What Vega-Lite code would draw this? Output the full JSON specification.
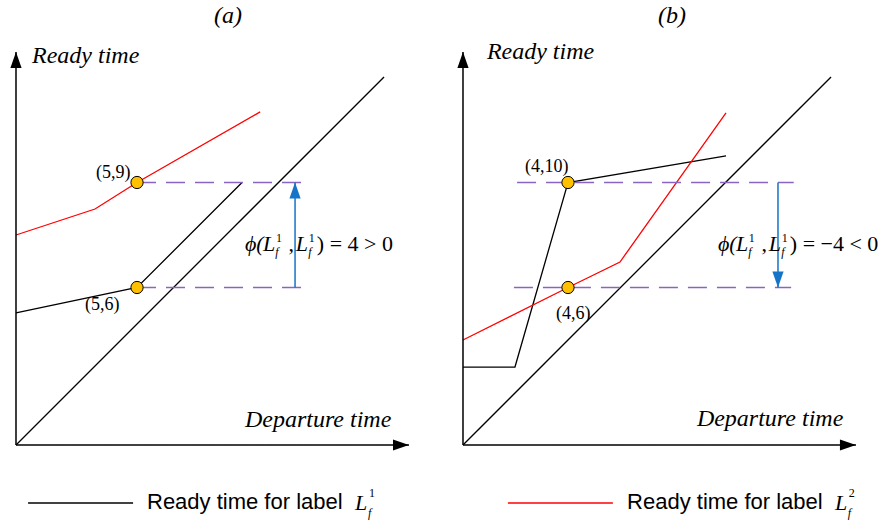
{
  "$schema": "https://vega.github.io/schema/vega-lite/v6.json",
  "background": "white",
  "padding": 0,
  "spacing": 0,
  "config": {"view": {"stroke": null}},
  "datasets": {
    "curves": [
      {"panel": "a", "series": "bound", "i": 0, "x": 0, "y": 0},
      {"panel": "a", "series": "bound", "i": 1, "x": 14.02, "y": 14.02},
      {"panel": "a", "series": "L1", "i": 0, "x": 0, "y": 5.03},
      {"panel": "a", "series": "L1", "i": 1, "x": 4.61, "y": 6.0},
      {"panel": "a", "series": "L1", "i": 2, "x": 8.61, "y": 10.0},
      {"panel": "a", "series": "L2", "i": 0, "x": 0, "y": 8.0},
      {"panel": "a", "series": "L2", "i": 1, "x": 3.01, "y": 8.99},
      {"panel": "a", "series": "L2", "i": 2, "x": 4.61, "y": 10.0},
      {"panel": "a", "series": "L2", "i": 3, "x": 9.3, "y": 12.69},
      {"panel": "b", "series": "bound", "i": 0, "x": 0, "y": 0},
      {"panel": "b", "series": "bound", "i": 1, "x": 14.02, "y": 14.02},
      {"panel": "b", "series": "L1", "i": 0, "x": 0, "y": 2.97},
      {"panel": "b", "series": "L1", "i": 1, "x": 1.98, "y": 2.97},
      {"panel": "b", "series": "L1", "i": 2, "x": 4.0, "y": 10.0},
      {"panel": "b", "series": "L1", "i": 3, "x": 10.02, "y": 11.01},
      {"panel": "b", "series": "L2", "i": 0, "x": 0, "y": 4.0},
      {"panel": "b", "series": "L2", "i": 1, "x": 4.0, "y": 6.0},
      {"panel": "b", "series": "L2", "i": 2, "x": 5.98, "y": 6.97},
      {"panel": "b", "series": "L2", "i": 3, "x": 10.02, "y": 12.65}
    ],
    "segments": [
      {"panel": "a", "series": "axis", "x": 0, "y": 0, "x2": 14.97, "y2": 0},
      {"panel": "a", "series": "axis", "x": 0, "y": 0, "x2": 0, "y2": 14.97},
      {"panel": "a", "series": "guide", "x": 4.61, "y": 10, "x2": 11.24, "y2": 10},
      {"panel": "a", "series": "guide", "x": 4.61, "y": 6, "x2": 11.24, "y2": 6},
      {"panel": "a", "series": "delta", "x": 10.63, "y": 6, "x2": 10.63, "y2": 10},
      {"panel": "a", "series": "L1", "x": 0.46, "y": -2.21, "x2": 4.46, "y2": -2.21},
      {"panel": "b", "series": "axis", "x": 0, "y": 0, "x2": 14.97, "y2": 0},
      {"panel": "b", "series": "axis", "x": 0, "y": 0, "x2": 0, "y2": 14.97},
      {"panel": "b", "series": "guide", "x": 2.06, "y": 10, "x2": 12.6, "y2": 10},
      {"panel": "b", "series": "guide", "x": 1.94, "y": 6, "x2": 12.5, "y2": 6},
      {"panel": "b", "series": "delta", "x": 12.0, "y": 10, "x2": 12.0, "y2": 6},
      {"panel": "b", "series": "L2", "x": 1.71, "y": -2.21, "x2": 5.71, "y2": -2.21}
    ],
    "heads": [
      {"panel": "a", "series": "axis", "dir": "right", "x": 14.97, "y": 0},
      {"panel": "a", "series": "axis", "dir": "up", "x": 0, "y": 14.97},
      {"panel": "a", "series": "delta", "dir": "up", "x": 10.63, "y": 10},
      {"panel": "b", "series": "axis", "dir": "right", "x": 14.97, "y": 0},
      {"panel": "b", "series": "axis", "dir": "up", "x": 0, "y": 14.97},
      {"panel": "b", "series": "delta", "dir": "down", "x": 12.0, "y": 6}
    ],
    "dots": [
      {"panel": "a", "x": 4.61, "y": 10},
      {"panel": "a", "x": 4.61, "y": 6},
      {"panel": "b", "x": 4.0, "y": 10},
      {"panel": "b", "x": 4.0, "y": 6}
    ],
    "notes": [
      {"panel": "a", "role": "ital", "text": "(a)", "x": 7.54, "y": 16.08},
      {"panel": "a", "role": "ital", "text": "Ready time", "x": 0.61, "y": 14.55},
      {"panel": "a", "role": "ital", "text": "Departure time", "x": 8.72, "y": 0.69},
      {"panel": "b", "role": "ital", "text": "(b)", "x": 7.43, "y": 16.08},
      {"panel": "b", "role": "ital", "text": "Ready time", "x": 0.91, "y": 14.7},
      {"panel": "b", "role": "ital", "text": "Departure time", "x": 8.91, "y": 0.72},
      {"panel": "a", "role": "coord", "text": "(5,9)", "x": 3.05, "y": 10.17},
      {"panel": "a", "role": "coord", "text": "(5,6)", "x": 2.63, "y": 5.14},
      {"panel": "b", "role": "coord", "text": "(4,10)", "x": 2.36, "y": 10.4},
      {"panel": "b", "role": "coord", "text": "(4,6)", "x": 3.54, "y": 4.8},
      {"panel": "a", "role": "mathit", "text": "ϕ(", "x": 8.72, "y": 7.39},
      {"panel": "a", "role": "mathit", "text": "L", "x": 9.41, "y": 7.39},
      {"panel": "a", "role": "mathit", "text": "L", "x": 10.66, "y": 7.39},
      {"panel": "b", "role": "mathit", "text": "ϕ(", "x": 9.71, "y": 7.39},
      {"panel": "b", "role": "mathit", "text": "L", "x": 10.4, "y": 7.39},
      {"panel": "b", "role": "mathit", "text": "L", "x": 11.65, "y": 7.39},
      {"panel": "a", "role": "mathit", "text": "L", "x": 12.91, "y": -2.48},
      {"panel": "b", "role": "mathit", "text": "L", "x": 14.17, "y": -2.48},
      {"panel": "a", "role": "math", "text": ",", "x": 10.38, "y": 7.39},
      {"panel": "a", "role": "math", "text": ") = 4 > 0", "x": 11.46, "y": 7.39},
      {"panel": "b", "role": "math", "text": ",", "x": 11.37, "y": 7.39},
      {"panel": "b", "role": "math", "text": ") = −4 < 0", "x": 12.45, "y": 7.39},
      {"panel": "a", "role": "sup", "text": "1", "x": 9.9, "y": 7.72},
      {"panel": "a", "role": "sup", "text": "1", "x": 11.15, "y": 7.72},
      {"panel": "a", "role": "sup", "text": "1", "x": 13.45, "y": -1.98},
      {"panel": "b", "role": "sup", "text": "1", "x": 10.89, "y": 7.72},
      {"panel": "b", "role": "sup", "text": "1", "x": 12.14, "y": 7.72},
      {"panel": "b", "role": "sup", "text": "2", "x": 14.7, "y": -1.98},
      {"panel": "a", "role": "sub", "text": "f", "x": 9.88, "y": 7.2},
      {"panel": "a", "role": "sub", "text": "f", "x": 11.13, "y": 7.2},
      {"panel": "a", "role": "sub", "text": "f", "x": 13.41, "y": -2.74},
      {"panel": "b", "role": "sub", "text": "f", "x": 10.87, "y": 7.2},
      {"panel": "b", "role": "sub", "text": "f", "x": 12.12, "y": 7.2},
      {"panel": "b", "role": "sub", "text": "f", "x": 14.66, "y": -2.74},
      {"panel": "a", "role": "key", "text": "Ready time for label", "x": 4.99, "y": -2.44},
      {"panel": "b", "role": "key", "text": "Ready time for label", "x": 6.25, "y": -2.44}
    ]
  },
  "hconcat": [
    {
      "width": 440,
      "height": 521,
      "encoding": {
        "x": {"field": "x", "type": "quantitative", "scale": {"domain": [-0.6095, 16.152], "nice": false, "zero": false}, "axis": null},
        "y": {"field": "y", "type": "quantitative", "scale": {"domain": [-2.895, 16.952], "nice": false, "zero": false}, "axis": null}
      },
      "layer": [
        {
          "data": {"name": "curves"},
          "transform": [{"filter": "datum.panel === 'a'"}],
          "mark": {"type": "line", "strokeWidth": 1.3},
          "encoding": {
            "color": {"field": "series", "type": "nominal", "scale": {"domain": ["L1", "L2", "bound", "axis", "guide", "delta"], "range": ["#000000", "#ff0000", "#000000", "#000000", "#8a64c4", "#1574c8"]}, "legend": null},
            "order": {"field": "i", "type": "quantitative"}
          }
        },
        {
          "data": {"name": "segments"},
          "transform": [{"filter": "datum.panel === 'a'"}],
          "mark": {"type": "rule", "strokeWidth": 1.5},
          "encoding": {
            "x2": {"field": "x2"},
            "y2": {"field": "y2"},
            "color": {"field": "series", "type": "nominal", "scale": {"domain": ["L1", "L2", "bound", "axis", "guide", "delta"], "range": ["#000000", "#ff0000", "#000000", "#000000", "#8a64c4", "#1574c8"]}, "legend": null},
            "strokeDash": {"field": "series", "type": "nominal", "scale": {"domain": ["L1", "L2", "bound", "axis", "guide", "delta"], "range": [[1, 0], [1, 0], [1, 0], [1, 0], [19, 10], [1, 0]]}, "legend": null}
          }
        },
        {
          "data": {"name": "heads"},
          "transform": [{"filter": "datum.panel === 'a'"}],
          "mark": {"type": "point", "filled": true, "size": 256, "opacity": 1},
          "encoding": {
            "shape": {"field": "dir", "type": "nominal", "scale": {"domain": ["right", "up", "down"], "range": ["M0,0L-2,-0.7L-2,0.7Z", "M0,0L-0.7,2L0.7,2Z", "M0,0L-0.7,-2L0.7,-2Z"]}, "legend": null},
            "color": {"field": "series", "type": "nominal", "scale": {"domain": ["L1", "L2", "bound", "axis", "guide", "delta"], "range": ["#000000", "#ff0000", "#000000", "#000000", "#8a64c4", "#1574c8"]}, "legend": null}
          }
        },
        {
          "data": {"name": "dots"},
          "transform": [{"filter": "datum.panel === 'a'"}],
          "mark": {"type": "point", "shape": "circle", "filled": true, "fill": "#ffc000", "stroke": "#000000", "strokeWidth": 1, "size": 150, "opacity": 1}
        },
        {
          "data": {"name": "notes"},
          "transform": [{"filter": "datum.panel === 'a' && datum.role === 'ital'"}],
          "mark": {"type": "text", "font": "Liberation Serif", "fontStyle": "italic", "fontSize": 24, "align": "left", "baseline": "alphabetic", "color": "#000000"},
          "encoding": {"text": {"field": "text"}}
        },
        {
          "data": {"name": "notes"},
          "transform": [{"filter": "datum.panel === 'a' && datum.role === 'coord'"}],
          "mark": {"type": "text", "font": "Liberation Serif", "fontSize": 18, "align": "left", "baseline": "alphabetic", "color": "#000000"},
          "encoding": {"text": {"field": "text"}}
        },
        {
          "data": {"name": "notes"},
          "transform": [{"filter": "datum.panel === 'a' && datum.role === 'mathit'"}],
          "mark": {"type": "text", "font": "Liberation Serif", "fontStyle": "italic", "fontSize": 22, "align": "left", "baseline": "alphabetic", "color": "#000000"},
          "encoding": {"text": {"field": "text"}}
        },
        {
          "data": {"name": "notes"},
          "transform": [{"filter": "datum.panel === 'a' && datum.role === 'math'"}],
          "mark": {"type": "text", "font": "Liberation Serif", "fontSize": 22, "align": "left", "baseline": "alphabetic", "color": "#000000"},
          "encoding": {"text": {"field": "text"}}
        },
        {
          "data": {"name": "notes"},
          "transform": [{"filter": "datum.panel === 'a' && datum.role === 'sup'"}],
          "mark": {"type": "text", "font": "Liberation Serif", "fontSize": 12, "align": "left", "baseline": "alphabetic", "color": "#000000"},
          "encoding": {"text": {"field": "text"}}
        },
        {
          "data": {"name": "notes"},
          "transform": [{"filter": "datum.panel === 'a' && datum.role === 'sub'"}],
          "mark": {"type": "text", "font": "Liberation Serif", "fontStyle": "italic", "fontSize": 12, "align": "left", "baseline": "alphabetic", "color": "#000000"},
          "encoding": {"text": {"field": "text"}}
        },
        {
          "data": {"name": "notes"},
          "transform": [{"filter": "datum.panel === 'a' && datum.role === 'key'"}],
          "mark": {"type": "text", "font": "Liberation Sans", "fontSize": 22, "align": "left", "baseline": "alphabetic", "color": "#000000"},
          "encoding": {"text": {"field": "text"}}
        }
      ]
    },
    {
      "width": 441,
      "height": 521,
      "encoding": {
        "x": {"field": "x", "type": "quantitative", "scale": {"domain": [-0.876, 15.924], "nice": false, "zero": false}, "axis": null},
        "y": {"field": "y", "type": "quantitative", "scale": {"domain": [-2.895, 16.952], "nice": false, "zero": false}, "axis": null}
      },
      "layer": [
        {
          "data": {"name": "curves"},
          "transform": [{"filter": "datum.panel === 'b'"}],
          "mark": {"type": "line", "strokeWidth": 1.3},
          "encoding": {
            "color": {"field": "series", "type": "nominal", "scale": {"domain": ["L1", "L2", "bound", "axis", "guide", "delta"], "range": ["#000000", "#ff0000", "#000000", "#000000", "#8a64c4", "#1574c8"]}, "legend": null},
            "order": {"field": "i", "type": "quantitative"}
          }
        },
        {
          "data": {"name": "segments"},
          "transform": [{"filter": "datum.panel === 'b'"}],
          "mark": {"type": "rule", "strokeWidth": 1.5},
          "encoding": {
            "x2": {"field": "x2"},
            "y2": {"field": "y2"},
            "color": {"field": "series", "type": "nominal", "scale": {"domain": ["L1", "L2", "bound", "axis", "guide", "delta"], "range": ["#000000", "#ff0000", "#000000", "#000000", "#8a64c4", "#1574c8"]}, "legend": null},
            "strokeDash": {"field": "series", "type": "nominal", "scale": {"domain": ["L1", "L2", "bound", "axis", "guide", "delta"], "range": [[1, 0], [1, 0], [1, 0], [1, 0], [19, 10], [1, 0]]}, "legend": null}
          }
        },
        {
          "data": {"name": "heads"},
          "transform": [{"filter": "datum.panel === 'b'"}],
          "mark": {"type": "point", "filled": true, "size": 256, "opacity": 1},
          "encoding": {
            "shape": {"field": "dir", "type": "nominal", "scale": {"domain": ["right", "up", "down"], "range": ["M0,0L-2,-0.7L-2,0.7Z", "M0,0L-0.7,2L0.7,2Z", "M0,0L-0.7,-2L0.7,-2Z"]}, "legend": null},
            "color": {"field": "series", "type": "nominal", "scale": {"domain": ["L1", "L2", "bound", "axis", "guide", "delta"], "range": ["#000000", "#ff0000", "#000000", "#000000", "#8a64c4", "#1574c8"]}, "legend": null}
          }
        },
        {
          "data": {"name": "dots"},
          "transform": [{"filter": "datum.panel === 'b'"}],
          "mark": {"type": "point", "shape": "circle", "filled": true, "fill": "#ffc000", "stroke": "#000000", "strokeWidth": 1, "size": 150, "opacity": 1}
        },
        {
          "data": {"name": "notes"},
          "transform": [{"filter": "datum.panel === 'b' && datum.role === 'ital'"}],
          "mark": {"type": "text", "font": "Liberation Serif", "fontStyle": "italic", "fontSize": 24, "align": "left", "baseline": "alphabetic", "color": "#000000"},
          "encoding": {"text": {"field": "text"}}
        },
        {
          "data": {"name": "notes"},
          "transform": [{"filter": "datum.panel === 'b' && datum.role === 'coord'"}],
          "mark": {"type": "text", "font": "Liberation Serif", "fontSize": 18, "align": "left", "baseline": "alphabetic", "color": "#000000"},
          "encoding": {"text": {"field": "text"}}
        },
        {
          "data": {"name": "notes"},
          "transform": [{"filter": "datum.panel === 'b' && datum.role === 'mathit'"}],
          "mark": {"type": "text", "font": "Liberation Serif", "fontStyle": "italic", "fontSize": 22, "align": "left", "baseline": "alphabetic", "color": "#000000"},
          "encoding": {"text": {"field": "text"}}
        },
        {
          "data": {"name": "notes"},
          "transform": [{"filter": "datum.panel === 'b' && datum.role === 'math'"}],
          "mark": {"type": "text", "font": "Liberation Serif", "fontSize": 22, "align": "left", "baseline": "alphabetic", "color": "#000000"},
          "encoding": {"text": {"field": "text"}}
        },
        {
          "data": {"name": "notes"},
          "transform": [{"filter": "datum.panel === 'b' && datum.role === 'sup'"}],
          "mark": {"type": "text", "font": "Liberation Serif", "fontSize": 12, "align": "left", "baseline": "alphabetic", "color": "#000000"},
          "encoding": {"text": {"field": "text"}}
        },
        {
          "data": {"name": "notes"},
          "transform": [{"filter": "datum.panel === 'b' && datum.role === 'sub'"}],
          "mark": {"type": "text", "font": "Liberation Serif", "fontStyle": "italic", "fontSize": 12, "align": "left", "baseline": "alphabetic", "color": "#000000"},
          "encoding": {"text": {"field": "text"}}
        },
        {
          "data": {"name": "notes"},
          "transform": [{"filter": "datum.panel === 'b' && datum.role === 'key'"}],
          "mark": {"type": "text", "font": "Liberation Sans", "fontSize": 22, "align": "left", "baseline": "alphabetic", "color": "#000000"},
          "encoding": {"text": {"field": "text"}}
        }
      ]
    }
  ]
}
